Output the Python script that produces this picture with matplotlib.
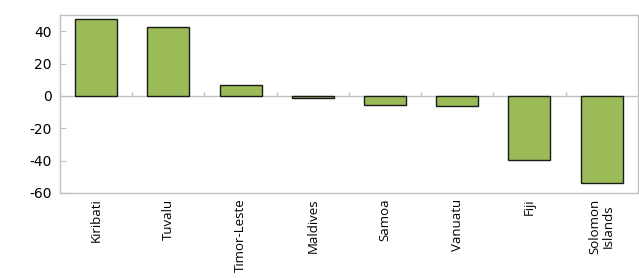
import numpy as np
import matplotlib.pyplot as plt

# data
countries = ["Kiribati", "Tuvalu", "Timor-Leste", "Maldives", "Samoa",
             "Vanuatu", "Fiji", "Solomon\nIslands"]
values = [47.8, 42.6, 6.6, -1.5, -5.9, -6.4, -39.8, -53.7]
yticks = [-60, -40, -20, 0, 20, 40]

fig = plt.figure(figsize=(6.39, 2.78), dpi=100)
ax = fig.add_axes([0.094, 0.306, 0.904, 0.640])

x = np.arange(len(countries))
ax.bar(x, values, width=0.58, color="#9bbb59", edgecolor="#1a1a1a", linewidth=1.0, zorder=3)

ax.set_xlim(-0.5, len(countries) - 0.5)
ax.set_ylim(-60, 50)
ax.set_yticks(yticks)
ax.set_yticklabels([str(t) for t in yticks], fontsize=10)
ax.tick_params(axis="y", direction="in", length=4, color="#bfbfbf", pad=6)

ax.set_xticks(x)
ax.set_xticklabels(countries, rotation=90, fontsize=9.5, ha="center", va="top",
                   family="Open Sans", linespacing=1.0)
ax.tick_params(axis="x", length=0, pad=4)

# zero line with small category dividers
ax.axhline(0, color="#bfbfbf", linewidth=1.0, zorder=2)
bounds = np.arange(0.5, len(countries) - 0.5, 1.0)
ax.vlines(bounds, 0, 2.5, color="#bfbfbf", linewidth=1.0, zorder=2)

for s in ax.spines.values():
    s.set_color("#bfbfbf")
    s.set_linewidth(1.0)

fig.savefig("out.png", dpi=100)
